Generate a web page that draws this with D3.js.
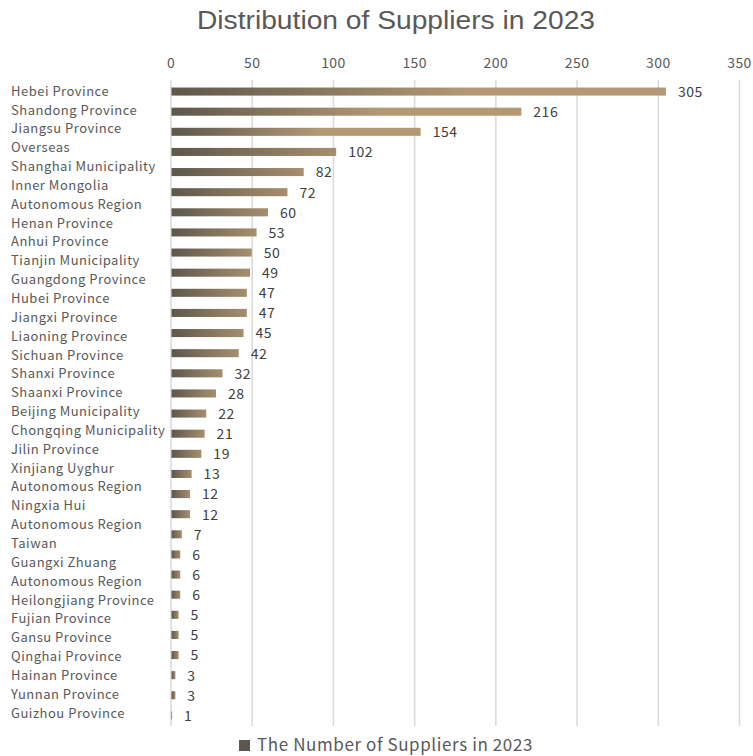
<!DOCTYPE html>
<html>
<head>
<meta charset="utf-8">
<script src="https://cdn.jsdelivr.net/npm/d3@7"></script>
<style>
  body { margin: 0; background: #fff; }
  text { font-family: "Noto Sans CJK SC", "Noto Sans", sans-serif; }
</style>
</head>
<body>
<svg id="chart" width="753" height="756"></svg>
<script>
const categories = [
  'Hebei Province', 'Shandong Province', 'Jiangsu Province', 'Overseas',
  'Shanghai Municipality', 'Inner Mongolia\nAutonomous Region', 'Henan Province',
  'Anhui Province', 'Tianjin Municipality', 'Guangdong Province', 'Hubei Province',
  'Jiangxi Province', 'Liaoning Province', 'Sichuan Province', 'Shanxi Province',
  'Shaanxi Province', 'Beijing Municipality', 'Chongqing Municipality', 'Jilin Province',
  'Xinjiang Uyghur\nAutonomous Region', 'Ningxia Hui\nAutonomous Region', 'Taiwan',
  'Guangxi Zhuang\nAutonomous Region', 'Heilongjiang Province', 'Fujian Province',
  'Gansu Province', 'Qinghai Province', 'Hainan Province', 'Yunnan Province',
  'Guizhou Province'
]
const suppliers = [305, 216, 154, 102, 82, 72, 60, 53, 50, 49, 47, 47, 45, 42, 32,
  28, 22, 21, 19, 13, 12, 12, 7, 6, 6, 6, 5, 5, 5, 3, 3, 1]
const xTicks = [0, 50, 100, 150, 200, 250, 300, 350]
const title = 'Distribution of Suppliers in 2023'
const seriesName = 'The Number of Suppliers in 2023'

const svg = d3.select('#chart')

// bars are indexed by position, the label column is just stacked lines
const x = d3.scaleLinear().domain([0, 350]).range([170.5, 739])
const y = d3.scaleBand().domain(d3.range(suppliers.length)).range([81.5, 725.5]).paddingInner(0.6).paddingOuter(0.3)

const defs = svg.append('defs')
const grad = defs.append('linearGradient').attr('id', 'barGrad')
grad.append('stop').attr('offset', '0%').attr('stop-color', '#5e574b')
grad.append('stop').attr('offset', '100%').attr('stop-color', '#a68e6d')
const grad2 = defs.append('linearGradient').attr('id', 'bigGrad')
grad2.append('stop').attr('offset', '0%').attr('stop-color', '#5e574b')
grad2.append('stop').attr('offset', '60%').attr('stop-color', '#b39873')
grad2.append('stop').attr('offset', '100%').attr('stop-color', '#b39873')

// title (condensed look)
svg.append('text')
  .attr('x', 197).attr('y', 29)
  .attr('textLength', 398)
  .attr('lengthAdjust', 'spacingAndGlyphs')
  .style('font-family', '"Liberation Sans", Arial, sans-serif')
  .style('font-size', '25px')
  .attr('fill', '#595959')
  .text(title)

// grid + top axis
const axis = svg.append('g')
  .attr('transform', 'translate(0,80)')
  .call(d3.axisTop(x).tickValues(xTicks).tickSize(-646).tickPadding(12))
axis.select('.domain').remove()
axis.selectAll('.tick line').attr('stroke', '#d9d9d9').attr('stroke-width', 1.5)
axis.selectAll('.tick text')
  .attr('fill', '#595959')
  .style('font-size', '14px')
  .style('letter-spacing', '0.4px')
  .style('font-family', '"Noto Sans CJK SC", sans-serif')

// bars
svg.append('g').selectAll('rect')
  .data(suppliers)
  .join('rect')
  .attr('x', x(0) + 1)
  .attr('y', (d, i) => y(i))
  .attr('width', d => x(d) - x(0) - 1)
  .attr('height', y.bandwidth())
  .attr('fill', d => d > 150 ? 'url(#bigGrad)' : 'url(#barGrad)')

// value labels
svg.append('g').selectAll('text')
  .data(suppliers)
  .join('text')
  .attr('x', d => x(d) + 12)
  .attr('y', (d, i) => y(i) + y.bandwidth() / 2)
  .attr('dy', '0.38em')
  .attr('fill', '#404040')
  .style('font-size', '14px')
  .style('letter-spacing', '0.5px')
  .text(d => d)

// category label column
const lines = categories.flatMap(c => c.split('\n'))
const lineY = d3.scaleLinear().domain([0, lines.length - 1]).range([91, 713])
svg.append('g').selectAll('text')
  .data(lines)
  .join('text')
  .attr('x', 11)
  .attr('y', (d, i) => lineY(i))
  .attr('dy', '0.36em')
  .attr('fill', '#595959')
  .style('font-size', '13px')
  .style('letter-spacing', '0.5px')
  .text(d => d)

// legend
const legend = svg.append('g').attr('transform', 'translate(239,740)')
legend.append('rect').attr('width', 11).attr('height', 11).attr('fill', '#5e574b')
legend.append('text')
  .attr('x', 18).attr('y', 11)
  .attr('fill', '#595959')
  .style('font-size', '17px')
  .style('letter-spacing', '0.6px')
  .text(seriesName)
</script>
</body>
</html>
